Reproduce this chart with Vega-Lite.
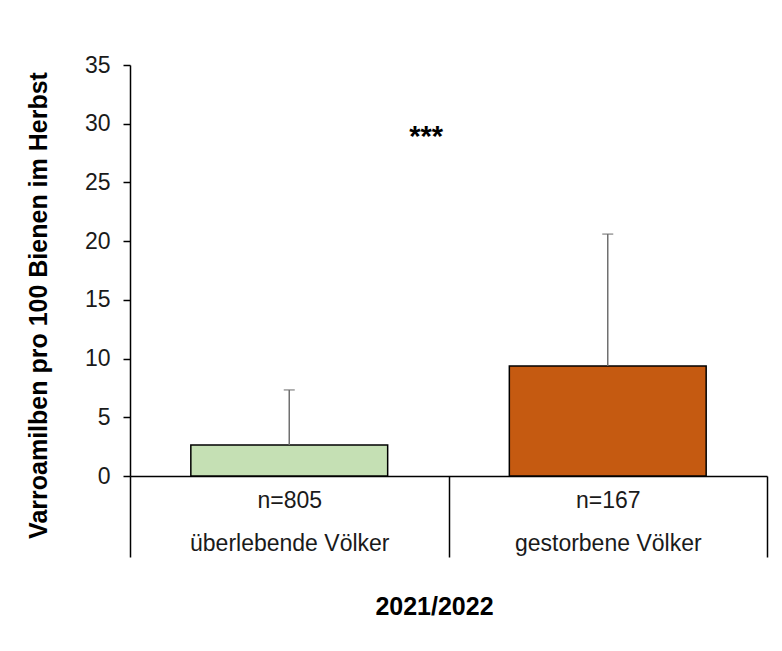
{
  "$schema": "https://vega.github.io/schema/vega-lite/v6.json",
  "width": 637,
  "height": 411,
  "autosize": "none",
  "padding": {"left": 130, "top": 65, "right": 15, "bottom": 175},
  "background": "white",
  "config": {
    "view": {"stroke": null},
    "font": "Liberation Sans"
  },
  "datasets": {
    "bars": [
      {"gruppe": "n=805|überlebende Völker", "mittel": 2.64, "oben": 7.33},
      {"gruppe": "n=167|gestorbene Völker", "mittel": 9.37, "oben": 20.6}
    ],
    "stern": [
      {"gruppe": "n=805|überlebende Völker", "text": "***", "y": 28.9}
    ]
  },
  "encoding": {
    "x": {
      "field": "gruppe",
      "type": "nominal",
      "sort": null,
      "scale": {"paddingInner": 0, "paddingOuter": 0},
      "axis": {
        "title": "2021/2022",
        "titleFont": "Liberation Sans",
        "titleFontSize": 25,
        "titleFontWeight": "bold",
        "titleColor": "#000000",
        "titleX": 304,
        "titleY": 130,
        "titleBaseline": "middle",
        "labelAngle": 0,
        "labelExpr": "split(datum.label, '|')",
        "labelFont": "Liberation Sans",
        "labelFontSize": 23,
        "labelColor": "#1a1a1a",
        "labelLineHeight": 43,
        "labelPadding": -68,
        "labelBaseline": "top",
        "labelLimit": 0,
        "tickBand": "extent",
        "tickSize": 81,
        "tickColor": "#000000",
        "tickWidth": 1.5,
        "domainColor": "#000000",
        "domainWidth": 1.5,
        "grid": false
      }
    }
  },
  "layer": [
    {
      "data": {"name": "bars"},
      "mark": {"type": "bar", "width": {"band": 0.618}, "stroke": "#000000", "strokeWidth": 1.5},
      "encoding": {
        "y": {
          "field": "mittel",
          "type": "quantitative",
          "scale": {"domain": [0, 35], "nice": false},
          "axis": {
            "title": "Varroamilben pro 100 Bienen im Herbst",
            "titleFont": "Liberation Sans",
            "titleFontSize": 25,
            "titleFontWeight": "bold",
            "titleColor": "#000000",
            "titleX": -92,
            "titleY": 240,
            "titleAngle": -90,
            "titleBaseline": "middle",
            "titleAnchor": null,
            "values": [0, 5, 10, 15, 20, 25, 30, 35],
            "labelFont": "Liberation Sans",
            "labelFontSize": 23,
            "labelColor": "#1a1a1a",
            "labelPadding": 13,
            "tickSize": 7,
            "tickColor": "#000000",
            "tickWidth": 1.5,
            "domainColor": "#000000",
            "domainWidth": 1.5,
            "grid": false
          }
        },
        "color": {
          "field": "gruppe",
          "type": "nominal",
          "scale": {"domain": ["n=805|überlebende Völker", "n=167|gestorbene Völker"], "range": ["#C5E0B4", "#C55A11"]},
          "legend": null
        }
      }
    },
    {
      "data": {"name": "bars"},
      "mark": {"type": "rule", "color": "#707070", "strokeWidth": 1.5},
      "encoding": {
        "y": {"field": "mittel", "type": "quantitative"},
        "y2": {"field": "oben"}
      }
    },
    {
      "data": {"name": "bars"},
      "mark": {"type": "tick", "color": "#707070", "size": 11, "thickness": 1.5, "orient": "horizontal"},
      "encoding": {
        "y": {"field": "oben", "type": "quantitative"}
      }
    },
    {
      "data": {"name": "stern"},
      "mark": {"type": "text", "font": "Liberation Sans", "fontSize": 29, "fontWeight": "bold", "color": "#000000", "baseline": "middle"},
      "encoding": {
        "x": {"field": "gruppe", "type": "nominal", "bandPosition": 0.93},
        "y": {"field": "y", "type": "quantitative"},
        "text": {"field": "text"}
      }
    }
  ]
}
